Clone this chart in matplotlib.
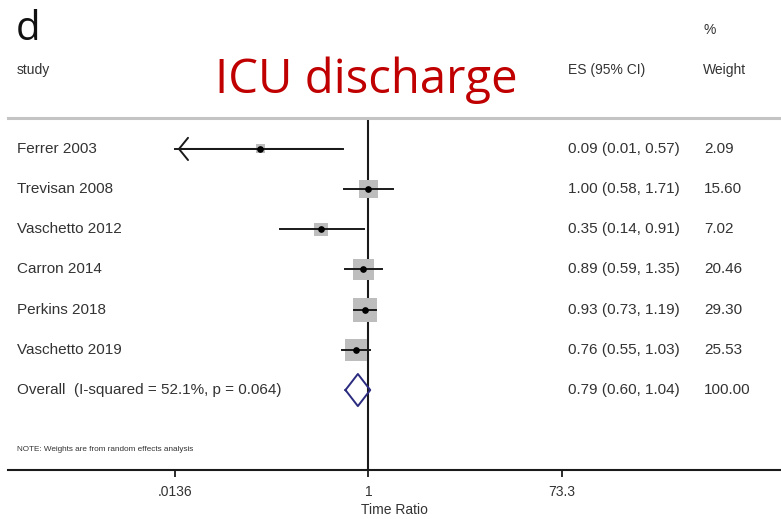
import matplotlib.pyplot as plt
import numpy as np

studies = ["Ferrer 2003", "Trevisan 2008", "Vaschetto 2012", "Carron 2014",
           "Perkins 2018", "Vaschetto 2019"]
es = [0.09, 1.00, 0.35, 0.89, 0.93, 0.76]
ci_lo = [0.01, 0.58, 0.14, 0.59, 0.73, 0.55]
ci_hi = [0.57, 1.71, 0.91, 1.35, 1.19, 1.03]
weights = [2.09, 15.60, 7.02, 20.46, 29.30, 25.53]

overall_es, overall_lo, overall_hi = 0.79, 0.60, 1.04
i_squared, p_het = 52.1, 0.064

tick_values = [0.0136, 1, 73.3]
tick_labels = [".0136", "1", "73.3"]

W, H = 781, 519
txt = '#333333'
plt.rcParams['font.family'] = ['Liberation Sans', 'DejaVu Sans']

fig = plt.figure(figsize=(W / 100, H / 100), dpi=100)
ax = fig.add_axes([8 / W, 49 / H, 773 / W, 352 / H])
ax.set_xscale('log')
ax.set_xlim(10 ** -3.477, 10 ** 3.979)
ax.set_ylim(7.99, -0.77)

xmin = tick_values[0]

# study rows: CI line, weighted box, point estimate
for i in range(len(studies)):
    lo = max(ci_lo[i], xmin)
    side = (3.5 + 3.78 * np.sqrt(weights[i])) * 0.72
    ax.scatter(es[i], i, marker='s', s=side ** 2, color='#bdbdbd',
               edgecolors='none', zorder=2)
    ax.plot([lo, ci_hi[i]], [i, i], color='#1a1a1a', lw=1.4, zorder=3)
    if ci_lo[i] < xmin:
        # CI runs past the axis: open arrow at the clipped end
        ax.annotate('', xy=(lo, i), xytext=(ci_hi[i], i),
                    arrowprops=dict(arrowstyle='->, head_length=0.65, head_width=0.8',
                                    color='#1a1a1a', lw=1.4, mutation_scale=10),
                    zorder=3)
    ax.plot(es[i], i, 'o', color='black', ms=3.8, zorder=4)

# pooled estimate diamond
n = len(studies)
dx = [overall_lo, overall_es, overall_hi, overall_es, overall_lo]
dy = [n, n - 0.4, n, n + 0.4, n]
ax.plot(dx, dy, color='#2b2b80', lw=1.4, zorder=3)

ax.axvline(1, color='#1a1a1a', lw=1.5, zorder=1)

# text columns
ty = ax.get_yaxis_transform()
def fx(px):
    return (px - 8) / 773

for i, s in enumerate(studies):
    ax.text(fx(17), i, s, transform=ty, va='center', ha='left', fontsize=11, color=txt)
    ax.text(fx(568), i, f"{es[i]:.2f} ({ci_lo[i]:.2f}, {ci_hi[i]:.2f})", transform=ty,
            va='center', ha='left', fontsize=11, color=txt)
    ax.text(fx(704), i, f"{weights[i]:.2f}", transform=ty, va='center', ha='left',
            fontsize=11, color=txt)

ax.text(fx(17), n, f"Overall  (I-squared = {i_squared}%, p = {p_het:.3f})", transform=ty,
        va='center', ha='left', fontsize=11, color=txt)
ax.text(fx(568), n, f"{overall_es:.2f} ({overall_lo:.2f}, {overall_hi:.2f})", transform=ty,
        va='center', ha='left', fontsize=11, color=txt)
ax.text(fx(704), n, "100.00", transform=ty, va='center', ha='left', fontsize=11, color=txt)
ax.text(fx(17), 7.47, "NOTE: Weights are from random effects analysis", transform=ty,
        va='center', ha='left', fontsize=5.9, color=txt)

# headers
fig.text(17 / W, 1 - 70 / H, "study", va='center', ha='left', fontsize=10, color=txt)
fig.text(568 / W, 1 - 70 / H, "ES (95% CI)", va='center', ha='left', fontsize=10, color=txt)
fig.text(703 / W, 1 - 70 / H, "Weight", va='center', ha='left', fontsize=10, color=txt)
fig.text(704 / W, 1 - 30 / H, "%", va='center', ha='left', fontsize=10, color=txt)
fig.text(16 / W, 1 - 30 / H, "d", va='center', ha='left', fontsize=29,
         family='Open Sans', color='#111111')
fig.text(366 / W, 1 - 80 / H, "ICU discharge", va='center', ha='center', fontsize=34,
         family='Open Sans', color='#c00000')

# axis styling
for side in ['left', 'right']:
    ax.spines[side].set_visible(False)
ax.spines['top'].set_color('#c4c4c4')
ax.spines['top'].set_linewidth(2.2)
ax.spines['bottom'].set_color('#1a1a1a')
ax.spines['bottom'].set_linewidth(1.5)
ax.set_yticks([])
ax.set_xticks(tick_values)
ax.set_xticklabels(tick_labels)
ax.minorticks_off()
ax.tick_params(axis='x', length=5, width=1.3, color='#1a1a1a', labelsize=10,
               labelcolor=txt, pad=6)
ax.set_xlabel("Time Ratio", fontsize=10, color=txt, labelpad=3)

fig.savefig('out.png', dpi=100)
